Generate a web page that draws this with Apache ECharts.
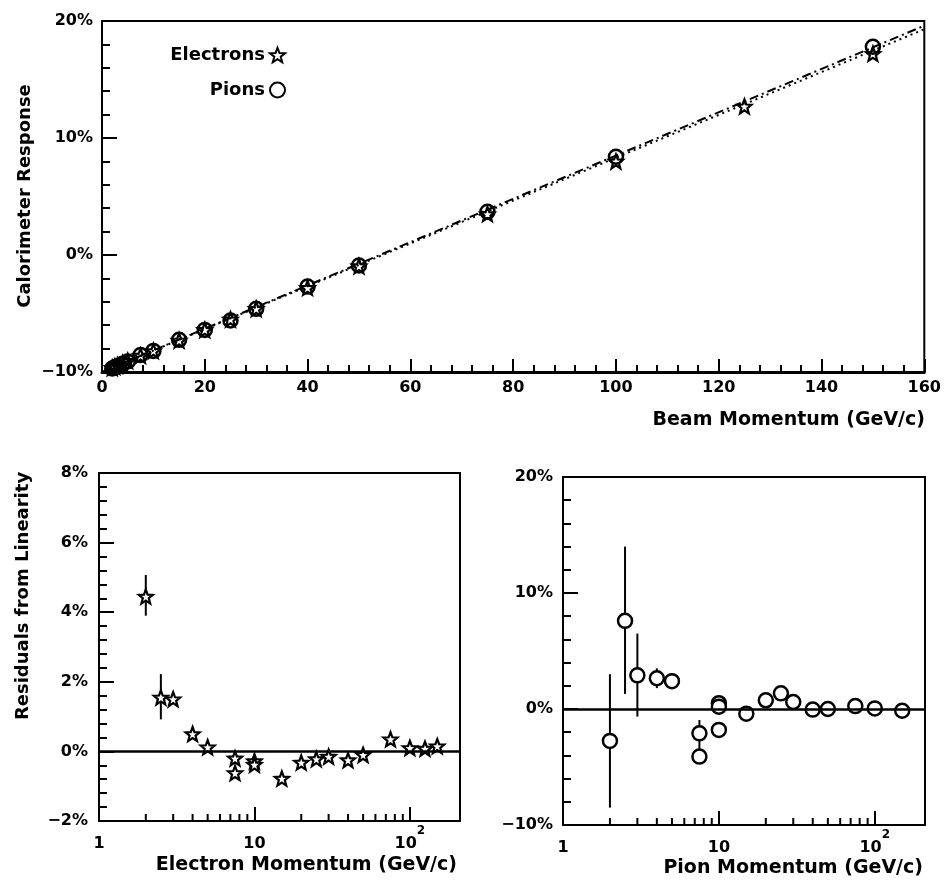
<!DOCTYPE html>
<html>
<head>
<meta charset="utf-8">
<script src="https://cdn.jsdelivr.net/npm/echarts@6/dist/echarts.min.js"></script>
<style>
  html, body { margin: 0; background: #fff; }
  #chart { width: 944px; height: 880px; }
</style>
</head>
<body>
<div id="chart"></div>
<script>
// top panel: calorimeter response vs beam momentum (GeV/c)
const electronP = [2, 2.5, 3, 4, 5, 7.5, 10, 15, 20, 25, 30, 40, 50, 75, 100, 125, 150]
const electronResponse = [-9.65, -9.55, -9.45, -9.25, -9.05, -8.6, -8.2, -7.3, -6.4, -5.5, -4.6, -2.8, -0.95, 3.5, 8.0, 12.7, 17.2]
const pionP = [2, 2.5, 3, 4, 5, 7.5, 10, 15, 20, 25, 30, 40, 50, 75, 100, 150]
const pionResponse = [-9.7, -9.6, -9.5, -9.3, -9.1, -8.55, -8.2, -7.25, -6.4, -5.6, -4.6, -2.7, -0.9, 3.7, 8.4, 17.8]

// straight line fits
const fitP = [0, 160]
const electronFit = [-10.0, 19.3]
const pionFit = [-10.0, 19.6]

// bottom left: electron residuals from linearity
const eResP = [2, 2.5, 3, 4, 5, 7.5, 7.5, 10, 10, 15, 20, 25, 30, 40, 50, 75, 100, 125, 150]
const eRes = [4.45, 1.55, 1.5, 0.5, 0.12, -0.2, -0.62, -0.28, -0.38, -0.78, -0.32, -0.22, -0.15, -0.25, -0.1, 0.35, 0.1, 0.08, 0.15]
const eBarP = [2, 2.5]
const eBarLo = [3.9, 0.92]
const eBarHi = [5.07, 2.22]

// bottom right: pion residuals from linearity
const piResP = [2, 2.5, 3, 4, 5, 7.5, 7.5, 10, 10, 10, 15, 20, 25, 30, 40, 50, 75, 100, 150]
const piRes = [-2.75, 7.6, 2.9, 2.65, 2.4, -2.1, -4.1, 0.5, 0.2, -1.8, -0.4, 0.75, 1.35, 0.6, -0.05, 0.0, 0.25, 0.05, -0.15]
const piBarP = [2, 2.5, 3, 4, 7.5]
const piBarLo = [-8.5, 1.3, -0.65, 1.8, -3.5]
const piBarHi = [3.0, 14.0, 6.5, 3.5, -0.95]

// log momentum axis range and minor tick positions
const logMin = 1
const logMax = 210
const logMinor = [2, 3, 4, 5, 6, 7, 8, 9, 20, 30, 40, 50, 60, 70, 80, 90]

const font = 'DejaVu Sans'
const black = '#000'
const starPath = 'path://M12,1L14.9,8.6L23,9L16.7,14L18.9,22L12,17.5L5.1,22L7.3,14L1,9L9.1,8.6Z'

const chart = echarts.init(document.getElementById('chart'), null, { renderer: 'canvas' })

function pct(v) {
  return (v < 0 ? '\u2212' + Math.abs(v) : v) + '%'
}

function logLabel(v) {
  const r = Math.round(v)
  if (r === 1) return '{b|1}'
  if (r === 10) return '{b|10}'
  if (r === 100) return '{b|10}{s|2}'
  return ''
}

const tickLabel = {
  color: black,
  fontFamily: font,
  fontWeight: 'bold',
  fontSize: 16,
}

const lineStyle = { color: black, width: 2 }

function valueY(gridIndex, min, max, interval, margin) {
  return {
    type: 'value',
    gridIndex,
    min,
    max,
    interval,
    axisLine: { show: true, onZero: false, lineStyle },
    axisTick: { inside: true, length: 15, lineStyle },
    minorTick: { show: true, splitNumber: 5, length: 8, lineStyle },
    splitLine: { show: false },
    axisLabel: { ...tickLabel, margin, formatter: pct },
  }
}

function logX(gridIndex) {
  return {
    type: 'log',
    gridIndex,
    logBase: 10,
    min: logMin,
    max: logMax,
    axisLine: { show: true, onZero: false, lineStyle },
    axisTick: { inside: true, length: 14, lineStyle },
    minorTick: { show: false },
    splitLine: { show: false },
    axisLabel: {
      margin: 4,
      formatter: logLabel,
      showMaxLabel: false,
      rich: {
        b: { ...tickLabel, padding: [11, 0, 0, 0], verticalAlign: 'bottom' },
        s: { ...tickLabel, fontSize: 12, verticalAlign: 'top' },
      },
    },
  }
}

function errorBars(idx, p, lo, hi) {
  return {
    type: 'custom',
    xAxisIndex: idx,
    yAxisIndex: idx,
    silent: true,
    z: 1,
    data: p.map((v, i) => [v, lo[i], hi[i]]),
    encode: { x: 0, y: [1, 2] },
    renderItem: (params, api) => {
      const a = api.coord([api.value(0), api.value(1)])
      const b = api.coord([api.value(0), api.value(2)])
      return {
        type: 'line',
        shape: { x1: a[0], y1: a[1], x2: b[0], y2: b[1] },
        style: { stroke: black, lineWidth: 2 },
      }
    },
  }
}

function logMinorTicks(idx, yMin) {
  return {
    type: 'custom',
    xAxisIndex: idx,
    yAxisIndex: idx,
    silent: true,
    data: logMinor.map((v) => [v, yMin]),
    encode: { x: 0, y: 1 },
    renderItem: (params, api) => {
      const p = api.coord([api.value(0), api.value(1)])
      return {
        type: 'line',
        shape: { x1: p[0], y1: p[1], x2: p[0], y2: p[1] - 7 },
        style: { stroke: black, lineWidth: 2 },
      }
    },
  }
}

// horizontal zero line across the whole log axis
const zeroLine = {
  silent: true,
  symbol: 'none',
  label: { show: false },
  lineStyle: { color: black, width: 2.5, type: 'solid' },
  data: [[{ coord: [logMin, 0] }, { coord: [logMax, 0] }]],
}

const title = (text, x, y, rotate, align) => ({
  type: 'text',
  x,
  y,
  rotation: rotate ? Math.PI / 2 : 0,
  style: {
    text,
    fill: black,
    fontFamily: font,
    fontWeight: 'bold',
    fontSize: rotate ? 18 : 19,
    align,
    verticalAlign: 'middle',
  },
})

const legendText = { color: black, fontFamily: font, fontWeight: 'bold', fontSize: 18 }

const option = {
  animation: false,
  backgroundColor: '#fff',
  grid: [
    { left: 102, top: 21, width: 824, height: 351 },
    { left: 99, top: 473, width: 361, height: 348 },
    { left: 563, top: 477, width: 362, height: 348 },
  ].map((g) => ({ ...g, show: true, borderColor: black, borderWidth: 2, backgroundColor: 'transparent' })),
  legend: [
    {
      data: ['Electrons'],
      right: 653,
      top: 41,
      align: 'right',
      itemWidth: 15,
      itemHeight: 15,
      selectedMode: false,
      textStyle: legendText,
    },
    {
      data: ['Pions'],
      right: 653,
      top: 76,
      align: 'right',
      itemWidth: 15,
      itemHeight: 15,
      selectedMode: false,
      textStyle: legendText,
    },
  ],
  xAxis: [
    {
      type: 'value',
      gridIndex: 0,
      min: 0,
      max: 160,
      interval: 20,
      axisLine: { show: true, onZero: false, lineStyle: { color: black, width: 3 } },
      axisTick: { inside: true, length: 13, lineStyle },
      minorTick: { show: true, splitNumber: 5, length: 7, lineStyle },
      splitLine: { show: false },
      axisLabel: { ...tickLabel, margin: 8 },
    },
    logX(1),
    logX(2),
  ],
  yAxis: [
    valueY(0, -10, 20, 10, 9),
    valueY(1, -2, 8, 2, 11),
    valueY(2, -10, 20, 10, 10),
  ],
  graphic: [
    title('Calorimeter Response', 25, 196, true, 'center'),
    title('Beam Momentum (GeV/c)', 925, 420, false, 'right'),
    title('Residuals from Linearity', 23, 596, true, 'center'),
    title('Electron Momentum (GeV/c)', 457, 865, false, 'right'),
    title('Pion Momentum (GeV/c)', 923, 868, false, 'right'),
  ],
  series: [
    {
      name: 'Pion fit',
      type: 'line',
      xAxisIndex: 0,
      yAxisIndex: 0,
      showSymbol: false,
      silent: true,
      data: fitP.map((p, i) => [p, pionFit[i]]),
      lineStyle: { color: black, width: 2, type: [9, 4, 2, 4] },
    },
    {
      name: 'Electron fit',
      type: 'line',
      xAxisIndex: 0,
      yAxisIndex: 0,
      showSymbol: false,
      silent: true,
      data: fitP.map((p, i) => [p, electronFit[i]]),
      lineStyle: { color: black, width: 2, type: [2, 4] },
    },
    {
      name: 'Pions',
      type: 'scatter',
      xAxisIndex: 0,
      yAxisIndex: 0,
      symbol: 'circle',
      symbolSize: 14,
      data: pionP.map((p, i) => [p, pionResponse[i]]),
      itemStyle: { color: 'transparent', borderColor: black, borderWidth: 2.5, opacity: 1 },
    },
    {
      name: 'Electrons',
      type: 'scatter',
      xAxisIndex: 0,
      yAxisIndex: 0,
      symbol: starPath,
      symbolSize: 14,
      data: electronP.map((p, i) => [p, electronResponse[i]]),
      itemStyle: { color: 'transparent', borderColor: black, borderWidth: 2.2, opacity: 1 },
    },
    logMinorTicks(1, -2),
    errorBars(1, eBarP, eBarLo, eBarHi),
    {
      name: 'Electron residuals',
      type: 'scatter',
      xAxisIndex: 1,
      yAxisIndex: 1,
      symbol: starPath,
      symbolSize: 14,
      z: 3,
      data: eResP.map((p, i) => [p, eRes[i]]),
      itemStyle: { color: '#fff', borderColor: black, borderWidth: 2.2, opacity: 1 },
      markLine: zeroLine,
    },
    logMinorTicks(2, -10),
    errorBars(2, piBarP, piBarLo, piBarHi),
    {
      name: 'Pion residuals',
      type: 'scatter',
      xAxisIndex: 2,
      yAxisIndex: 2,
      symbol: 'circle',
      symbolSize: 14,
      z: 3,
      data: piResP.map((p, i) => [p, piRes[i]]),
      itemStyle: { color: '#fff', borderColor: black, borderWidth: 2.5, opacity: 1 },
      markLine: zeroLine,
    },
  ],
}

chart.setOption(option)
</script>
</body>
</html>
